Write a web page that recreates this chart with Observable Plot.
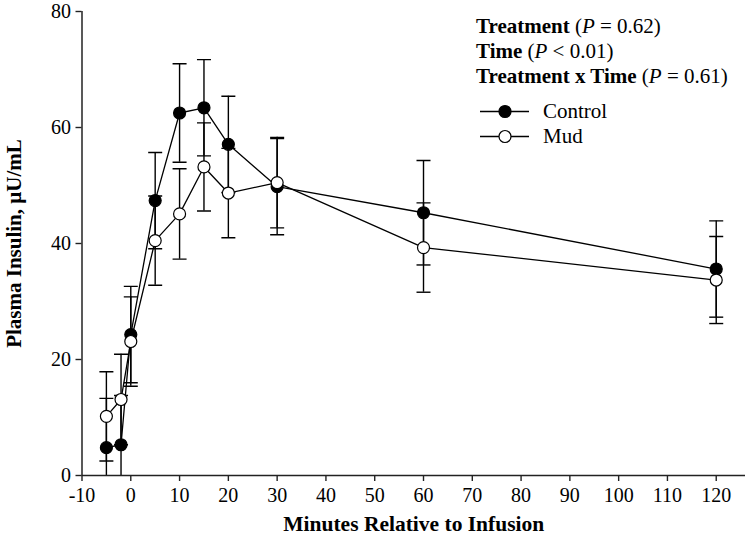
<!DOCTYPE html>
<html>
<head>
<meta charset="utf-8">
<script src="https://cdn.jsdelivr.net/npm/d3@7"></script>
<script src="https://cdn.jsdelivr.net/npm/@observablehq/plot@0.6"></script>
<style>
  body { margin: 0; background: #fff; }
  #wrap { position: relative; width: 748px; height: 544px; font-family: 'Liberation Serif', serif; }
  .stats { position: absolute; left: 476px; top: 14px; font-family: 'Liberation Serif', serif; font-size: 21px; line-height: 25px; color: #000; white-space: nowrap; }
  .stats b { font-weight: bold; }
  .leg { position: absolute; left: 480px; font-family: 'Liberation Serif', serif; font-size: 21px; line-height: 25px; white-space: nowrap; display: flex; align-items: center; color: #000; }
  .leg svg { display: block; margin-right: 14px; }
</style>
</head>
<body>
<div id="wrap"></div>
<script>
const times = [-5, -2, 0, 5, 10, 15, 20, 30, 60, 120];
const controlMean = [4.8, 5.3, 24.3, 47.4, 62.5, 63.4, 57.1, 49.8, 45.3, 35.6];
const controlSE   = [8.5, 8.5, 8.3, 8.3, 8.5, 8.3, 8.3, 8.3, 9.0, 8.3];
const mudMean     = [10.2, 13.1, 23.1, 40.5, 45.1, 53.2, 48.7, 50.5, 39.3, 33.7];
const mudSE       = [7.7, 7.8, 7.7, 7.7, 7.8, 7.6, 7.7, 7.8, 7.7, 7.5];
const xTicks = [-10, 0, 10, 20, 30, 40, 50, 60, 70, 80, 90, 100, 110, 120];
const yTicks = [0, 20, 40, 60, 80];
const seriesNames = ["Control", "Mud"];

const control = times.map((t, i) => ({t, v: controlMean[i], lo: controlMean[i] - controlSE[i], hi: controlMean[i] + controlSE[i]}));
const mud = times.map((t, i) => ({t, v: mudMean[i], lo: mudMean[i] - mudSE[i], hi: mudMean[i] + mudSE[i]}));

const cap = {draw(ctx, size) { const w = Math.sqrt(size / Math.PI); ctx.moveTo(-w, 0); ctx.lineTo(w, 0); }};

function errMarks(data) {
  return [
    Plot.ruleX(data, {x: "t", y1: "lo", y2: "hi", stroke: "#000", strokeWidth: 1.4, clip: true}),
    Plot.dot(data, {x: "t", y: "hi", symbol: cap, r: 7, stroke: "#000", strokeWidth: 1.4, clip: true}),
    Plot.dot(data, {x: "t", y: "lo", symbol: cap, r: 7, stroke: "#000", strokeWidth: 1.4, clip: true})
  ];
}

const serif = "'Liberation Serif', serif";

const chart = Plot.plot({
  width: 748,
  height: 544,
  marginLeft: 81.5,
  marginRight: 3,
  marginTop: 11,
  marginBottom: 69,
  style: {fontFamily: serif, fontSize: "20px", color: "#000", background: "#fff"},
  x: {domain: [-10, 126]},
  y: {domain: [0, 80]},
  marks: [
    ...errMarks(control),
    ...errMarks(mud),
    Plot.line(control, {x: "t", y: "v", stroke: "#000", strokeWidth: 1.3}),
    Plot.line(mud, {x: "t", y: "v", stroke: "#000", strokeWidth: 1.3}),
    Plot.dot(control, {x: "t", y: "v", r: 6, fill: "#000", stroke: "#000", strokeWidth: 1.2}),
    Plot.dot(mud, {x: "t", y: "v", r: 6, fill: "#fff", stroke: "#000", strokeWidth: 1.2}),
    Plot.ruleY([0], {stroke: "#222", strokeWidth: 1.5}),
    Plot.ruleX([-10], {stroke: "#222", strokeWidth: 1.5}),
    Plot.axisX({ticks: xTicks, tickFormat: d => String(d), tickSize: 6, tickPadding: 6, label: null, fontSize: 20, fontFamily: serif, stroke: "#222", strokeWidth: 1.4}),
    Plot.axisY({ticks: yTicks, tickFormat: d => String(d), tickSize: 6, tickPadding: 5, label: null, fontSize: 20, fontFamily: serif, stroke: "#222", strokeWidth: 1.4}),
    Plot.text(["Minutes Relative to Infusion"], {frameAnchor: "bottom", dy: 55, fontWeight: "bold", fontSize: 21.5, fontFamily: serif, fill: "#000"}),
    Plot.text(["Plasma Insulin, µU/mL"], {frameAnchor: "left", textAnchor: "middle", rotate: -90, dx: -68, fontWeight: "bold", fontSize: 21, fontFamily: serif, fill: "#000"})
  ]
});

const wrap = document.getElementById("wrap");
wrap.appendChild(chart);

const stats = document.createElement("div");
stats.className = "stats";
stats.innerHTML = '<b>Treatment</b> (<i>P</i> = 0.62)<br><b>Time</b> (<i>P</i> &lt; 0.01)<br><b>Treatment x Time</b> (<i>P</i> = 0.61)';
wrap.appendChild(stats);

seriesNames.forEach((name, i) => {
  const d = document.createElement("div");
  d.className = "leg";
  d.style.top = (99 + i * 25) + "px";
  const fill = i === 0 ? "#000" : "#fff";
  d.innerHTML = `<svg width="49" height="25"><line x1="0" x2="49" y1="12.5" y2="12.5" stroke="#000" stroke-width="1.3"/><circle cx="25" cy="12.5" r="6" fill="${fill}" stroke="#000" stroke-width="1.2"/></svg><span>${name}</span>`;
  wrap.appendChild(d);
});
</script>
</body>
</html>
